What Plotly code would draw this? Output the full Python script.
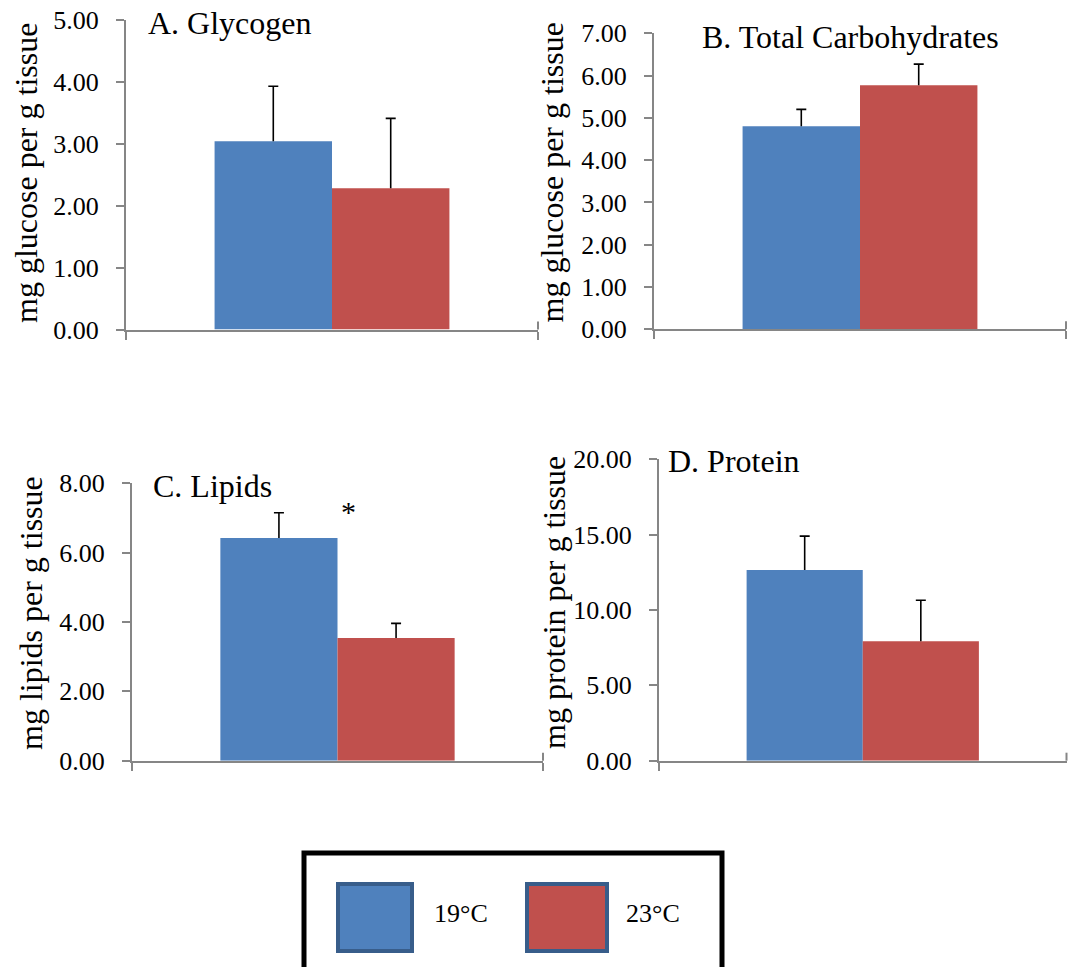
import plotly.graph_objects as go

# ---------------- data ----------------
groups = ["19°C", "23°C"]
category = ["tissue"]
panel_titles = ["A. Glycogen", "B. Total Carbohydrates", "C. Lipids", "D. Protein"]
y_titles = ["mg glucose per g tissue", "mg glucose per g tissue",
            "mg lipids per g tissue", "mg protein per g tissue"]
glycogen_mean = [3.04, 2.28]
glycogen_err = [0.89, 1.13]
carb_mean = [4.80, 5.77]
carb_err = [0.40, 0.50]
lipid_mean = [6.42, 3.54]
lipid_err = [0.73, 0.42]
protein_mean = [12.66, 7.93]
protein_err = [2.24, 2.72]
y_max = [5, 7, 8, 20]
y_step = [1, 1, 2, 5]
significance = ["", "", "*", ""]

means = [glycogen_mean, carb_mean, lipid_mean, protein_mean]
errs = [glycogen_err, carb_err, lipid_err, protein_err]

# ---------------- style ----------------
W, H = 1069, 967
FONT = "Liberation Serif"
bar_colors = ["#4F81BD", "#C0504D"]
axis_gray = "#868686"

# plot-area boxes in pixels: (left, right, top, bottom)
boxes = [(126, 538, 20, 329.5), (654, 1066, 33.3, 329.3),
         (132, 543, 483.3, 760.7), (659, 1066.5, 459.3, 760.7)]
title_pos = [(146, 23, "left"), (850, 37, "center"), (151, 486, "left"), (666, 461, "left")]
ytitle_pos = [(26, 173), (551, 172.5), (31, 613), (554, 603)]
star_pos = [None, None, (348, 511), None]


def px(x):
    return x / W


def py(y):
    return 1 - y / H


fig = go.Figure()
annotations = []
shapes = []

for i in range(4):
    n = "" if i == 0 else str(i + 1)
    for j in range(2):
        # the bar itself, with the error stem (no caps)
        fig.add_trace(go.Bar(
            x=category, y=[means[i][j]], name=groups[j],
            marker=dict(color=bar_colors[j], line=dict(width=0)),
            error_y=dict(type="data", array=[errs[i][j]], arrayminus=[0],
                         symmetric=False, color="black", thickness=1.6, width=0),
            xaxis="x" + n, yaxis="y" + n, showlegend=False,
            offsetgroup=str(j), hoverinfo="skip",
        ))
        # invisible companion bar in the same slot, carrying the top cap only
        fig.add_trace(go.Bar(
            x=category, y=[means[i][j] + errs[i][j]], name=groups[j],
            marker=dict(color="rgba(0,0,0,0)", line=dict(width=0)),
            error_y=dict(type="data", array=[0], arrayminus=[0],
                         symmetric=False, color="black", thickness=1.6, width=5),
            xaxis="x" + n, yaxis="y" + n, showlegend=False,
            offsetgroup=str(j), hoverinfo="skip",
        ))
    l, r, t, b = boxes[i]
    fig.update_layout(**{
        "xaxis" + n: dict(
            domain=[px(l), px(r)], anchor="y" + n, type="category",
            range=[-0.5, 0.5], tickson="boundaries", ticks="outside",
            ticklen=8, tickwidth=2, tickcolor=axis_gray, showline=True,
            linecolor=axis_gray, linewidth=2, showticklabels=False,
            showgrid=False, zeroline=False, automargin=False),
        "yaxis" + n: dict(
            domain=[py(b), py(t)], anchor="x" + n, range=[0, y_max[i]],
            dtick=y_step[i], tick0=0, tickformat=".2f", ticks="outside",
            ticklen=8, tickwidth=2, tickcolor=axis_gray, showline=True,
            linecolor=axis_gray, linewidth=2, showgrid=False, zeroline=False,
            tickfont=dict(family=FONT, size=26, color="black"),
            ticklabelstandoff=12, automargin=False),
    })
    # upper half of the crossing tick at the right end of the category axis
    shapes.append(dict(type="line", xref="paper", yref="paper",
                       x0=px(r), x1=px(r), y0=py(b), y1=py(b - 8),
                       line=dict(color=axis_gray, width=2)))
    tx, ty, anc = title_pos[i]
    annotations.append(dict(text=panel_titles[i], xref="paper", yref="paper",
                            x=px(tx), y=py(ty), xanchor=anc, yanchor="middle",
                            showarrow=False,
                            font=dict(family=FONT, size=32, color="black")))
    ax, ay = ytitle_pos[i]
    annotations.append(dict(text=y_titles[i], xref="paper", yref="paper",
                            x=px(ax), y=py(ay), xanchor="center", yanchor="middle",
                            textangle=-90, showarrow=False,
                            font=dict(family=FONT, size=32, color="black")))
    if significance[i]:
        sx, sy = star_pos[i]
        annotations.append(dict(text=significance[i], xref="paper", yref="paper",
                                x=px(sx), y=py(sy), xanchor="center", yanchor="middle",
                                showarrow=False,
                                font=dict(family=FONT, size=30, color="black")))

# ---------------- legend box ----------------
shapes.append(dict(type="rect", xref="paper", yref="paper",
                   x0=px(304), x1=px(722), y0=py(853), y1=py(990),
                   line=dict(color="black", width=5), fillcolor="white"))
swatches = [(338, 412), (527, 607)]
label_x = [432, 624]
for j in range(2):
    x0, x1 = swatches[j]
    shapes.append(dict(type="rect", xref="paper", yref="paper",
                       x0=px(x0), x1=px(x1), y0=py(951), y1=py(884),
                       line=dict(color="#385D8A", width=4),
                       fillcolor=bar_colors[j]))
    annotations.append(dict(text=groups[j], xref="paper", yref="paper",
                            x=px(label_x[j]), y=py(913), xanchor="left",
                            yanchor="middle", showarrow=False,
                            font=dict(family=FONT, size=26, color="black")))

fig.update_layout(
    width=W, height=H, margin=dict(l=0, r=0, t=0, b=0, autoexpand=False),
    paper_bgcolor="white", plot_bgcolor="white",
    barmode="group", bargap=0.43, bargroupgap=0,
    shapes=shapes, annotations=annotations,
)

fig.write_html(
    "out.html",
    config={"displayModeBar": False},
    post_script="document.body.style.margin='0px';document.body.style.overflow='hidden';",
)
